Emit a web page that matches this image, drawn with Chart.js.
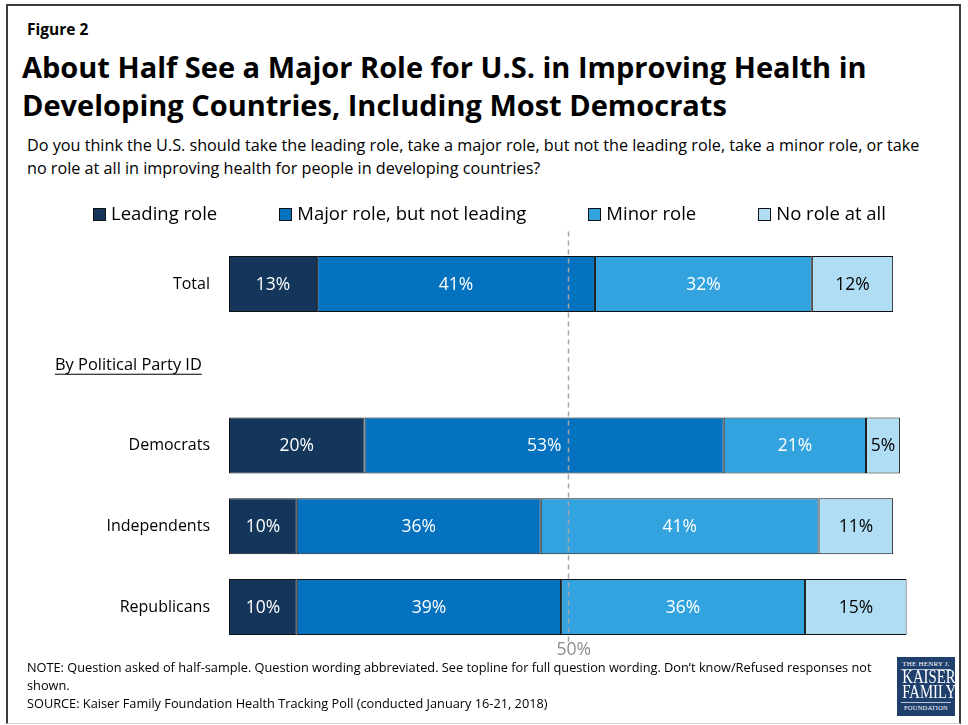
<!DOCTYPE html>
<html>
<head>
<meta charset="utf-8">
<script src="https://cdn.jsdelivr.net/npm/chart.js@4.4.1/dist/chart.umd.min.js"></script>
<style>
  html, body { margin: 0; padding: 0; background: #fff; }
  body { width: 968px; height: 725px; position: relative; overflow: hidden;
         font-family: "Open Sans", Lato, sans-serif; color: #000; }
  .frame { position: absolute; left: 6px; top: 4px; width: 955px; height: 720px;
           box-sizing: border-box; border: 2px solid #3c3c3c; border-bottom: 1px solid #d9d9d9; }
  .fig { position: absolute; left: 27px; top: 18px; font-size: 15.5px; font-weight: 700; line-height: 22px; }
  .title { position: absolute; left: 22px; top: 48px; font-size: 29px; font-weight: 700;
           line-height: 38px; white-space: nowrap; }
  .question { position: absolute; left: 27px; top: 134px; font-size: 16.2px; line-height: 23px; white-space: nowrap; }
  .notes { position: absolute; left: 27px; top: 658px; font-size: 12.75px; line-height: 18px; white-space: nowrap; }
  #chartBox { position: absolute; left: 0; top: 140px; width: 968px; height: 540px; }
  .logo { position: absolute; left: 897px; top: 657px; width: 58px; height: 59px; background: #1f3f6d;
          color: #fff; font-family: "Liberation Serif", "DejaVu Serif", serif; text-align: center; }
  .logo .sm { font-size: 7px; line-height: 9px; letter-spacing: 0.2px; }
  .logo .top { margin-top: 3px; border-bottom: 1px solid rgba(255,255,255,0.7); margin-left: 4px; margin-right: 4px; }
  .logo .big { font-size: 18px; line-height: 15px; transform: scaleX(0.82); }
  .logo .bot { border-top: 1px solid rgba(255,255,255,0.7); margin-left: 4px; margin-right: 4px; margin-top: 2px; font-size: 6.5px; }
</style>
</head>
<body>
<div class="frame"></div>
<div class="fig">Figure 2</div>
<div class="title">About Half See a Major Role for U.S. in Improving Health in<br>Developing Countries, Including Most Democrats</div>
<div class="question">Do you think the U.S. should take the leading role, take a major role, but not the leading role, take a minor role, or take<br>no role at all in improving health for people in developing countries?</div>
<div id="chartBox"><canvas id="chart" width="968" height="540"></canvas></div>
<div class="notes">NOTE: Question asked of half-sample. Question wording abbreviated. See topline for full question wording. Don’t know/Refused responses not<br>shown.<br>SOURCE: Kaiser Family Foundation Health Tracking Poll (conducted January 16-21, 2018)</div>
<div class="logo">
  <div class="sm top">THE HENRY J.</div>
  <div class="big">KAISER</div>
  <div class="big">FAMILY</div>
  <div class="sm bot">FOUNDATION</div>
</div>
<script>
// Survey rows (the blank row holds the party heading)
const categories = ['Total', '', 'Democrats', 'Independents', 'Republicans'];
const groupHeading = 'By Political Party ID';

// Percent answering each option
const leadingRole = [13, null, 20, 10, 10];
const majorRole   = [41, null, 53, 36, 39];
const minorRole   = [32, null, 21, 41, 36];
const noRole      = [12, null, 5, 11, 15];

const seriesNames  = ['Leading role', 'Major role, but not leading', 'Minor role', 'No role at all'];
const seriesColors = ['#15365B', '#0572BF', '#33A3E0', '#B0DDF3'];
const labelColors  = ['#ffffff', '#ffffff', '#ffffff', '#000000'];

// Reference line and its tick label on the value axis
const xTicks = [50];
const referenceValue = 50;

const seriesValues = [leadingRole, majorRole, minorRole, noRole];

const FONT = '"Open Sans", Lato, sans-serif';
const OUTLINE = '#111111';

// Legend row, group heading, dashed 50% line, its tick label and segment value labels
const overlays = {
  id: 'overlays',
  afterDatasetsDraw(chart) {
    const { ctx, chartArea, scales } = chart;

    // dashed reference line
    const x = Math.round(scales.x.getPixelForValue(referenceValue)) + 0.5;
    ctx.save();
    ctx.strokeStyle = '#a6a6a6';
    ctx.lineWidth = 1.5;
    ctx.setLineDash([5, 4]);
    ctx.beginPath();
    ctx.moveTo(x, chartArea.top - 12);
    ctx.lineTo(x, chartArea.bottom - 3);
    ctx.stroke();
    ctx.restore();

    // value-axis tick label(s) under the bars
    ctx.save();
    ctx.font = '17.5px ' + FONT;
    ctx.fillStyle = '#8c8c8c';
    ctx.textAlign = 'center';
    ctx.textBaseline = 'top';
    xTicks.forEach(v => {
      ctx.fillText(v + '%', scales.x.getPixelForValue(v) + 6, chartArea.bottom - 6);
    });
    ctx.restore();

    // value labels centred in each segment
    ctx.save();
    ctx.font = '17.5px ' + FONT;
    ctx.textAlign = 'center';
    ctx.textBaseline = 'middle';
    chart.data.datasets.forEach((ds, i) => {
      chart.getDatasetMeta(i).data.forEach((bar, j) => {
        const v = ds.data[j];
        if (v == null) return;
        const p = bar.getCenterPoint();
        ctx.fillStyle = labelColors[i];
        ctx.fillText(v + '%', p.x, p.y + 1);
      });
    });
    ctx.restore();

    // party group heading, underlined
    const hy = scales.y.getPixelForValue(1);
    ctx.save();
    ctx.font = '16.4px ' + FONT;
    ctx.fillStyle = '#000';
    ctx.textAlign = 'left';
    ctx.textBaseline = 'middle';
    const hx = 55;
    ctx.fillText(groupHeading, hx, hy + 1);
    const w = ctx.measureText(groupHeading).width;
    ctx.fillRect(hx, hy + 9, w, 1);
    ctx.restore();

    // legend row
    ctx.save();
    ctx.font = '18.5px ' + FONT;
    ctx.textBaseline = 'middle';
    ctx.textAlign = 'left';
    const box = 13, textGap = 5, itemGap = 62, ly = 74, centerX = 489;
    const widths = seriesNames.map(n => box + textGap + ctx.measureText(n).width);
    const total = widths.reduce((a, b) => a + b, 0) + itemGap * (widths.length - 1);
    let cx = Math.round(centerX - total / 2);
    seriesNames.forEach((name, i) => {
      const bx = Math.round(cx), by = Math.round(ly - box / 2);
      ctx.fillStyle = seriesColors[i];
      ctx.fillRect(bx, by, box, box);
      ctx.strokeStyle = OUTLINE;
      ctx.lineWidth = 1;
      ctx.strokeRect(bx + 0.5, by + 0.5, box - 1, box - 1);
      ctx.fillStyle = '#000';
      ctx.fillText(name, cx + box + textGap, ly + 1);
      cx += widths[i] + itemGap;
    });
    ctx.restore();
  }
};

new Chart(document.getElementById('chart'), {
  type: 'bar',
  data: {
    labels: categories,
    datasets: seriesValues.map((vals, i) => ({
      label: seriesNames[i],
      data: vals,
      backgroundColor: seriesColors[i],
      borderColor: OUTLINE,
      borderWidth: 1,
      borderSkipped: false,
      barPercentage: 0.693,
      categoryPercentage: 1
    }))
  },
  options: {
    indexAxis: 'y',
    responsive: false,
    animation: false,
    events: [],
    layout: { padding: { top: 103.6, left: 0, right: 61.3, bottom: 32.6 } },
    plugins: {
      legend: { display: false },
      tooltip: { enabled: false }
    },
    scales: {
      x: {
        stacked: true,
        min: 0,
        max: 100,
        display: false
      },
      y: {
        stacked: true,
        grid: { display: false, drawTicks: false },
        border: { display: false },
        afterFit(scale) { scale.width = 229; },
        ticks: {
          padding: 19,
          color: '#000',
          font: { family: FONT, size: 16 }
        }
      }
    }
  },
  plugins: [overlays]
});
</script>
</body>
</html>
